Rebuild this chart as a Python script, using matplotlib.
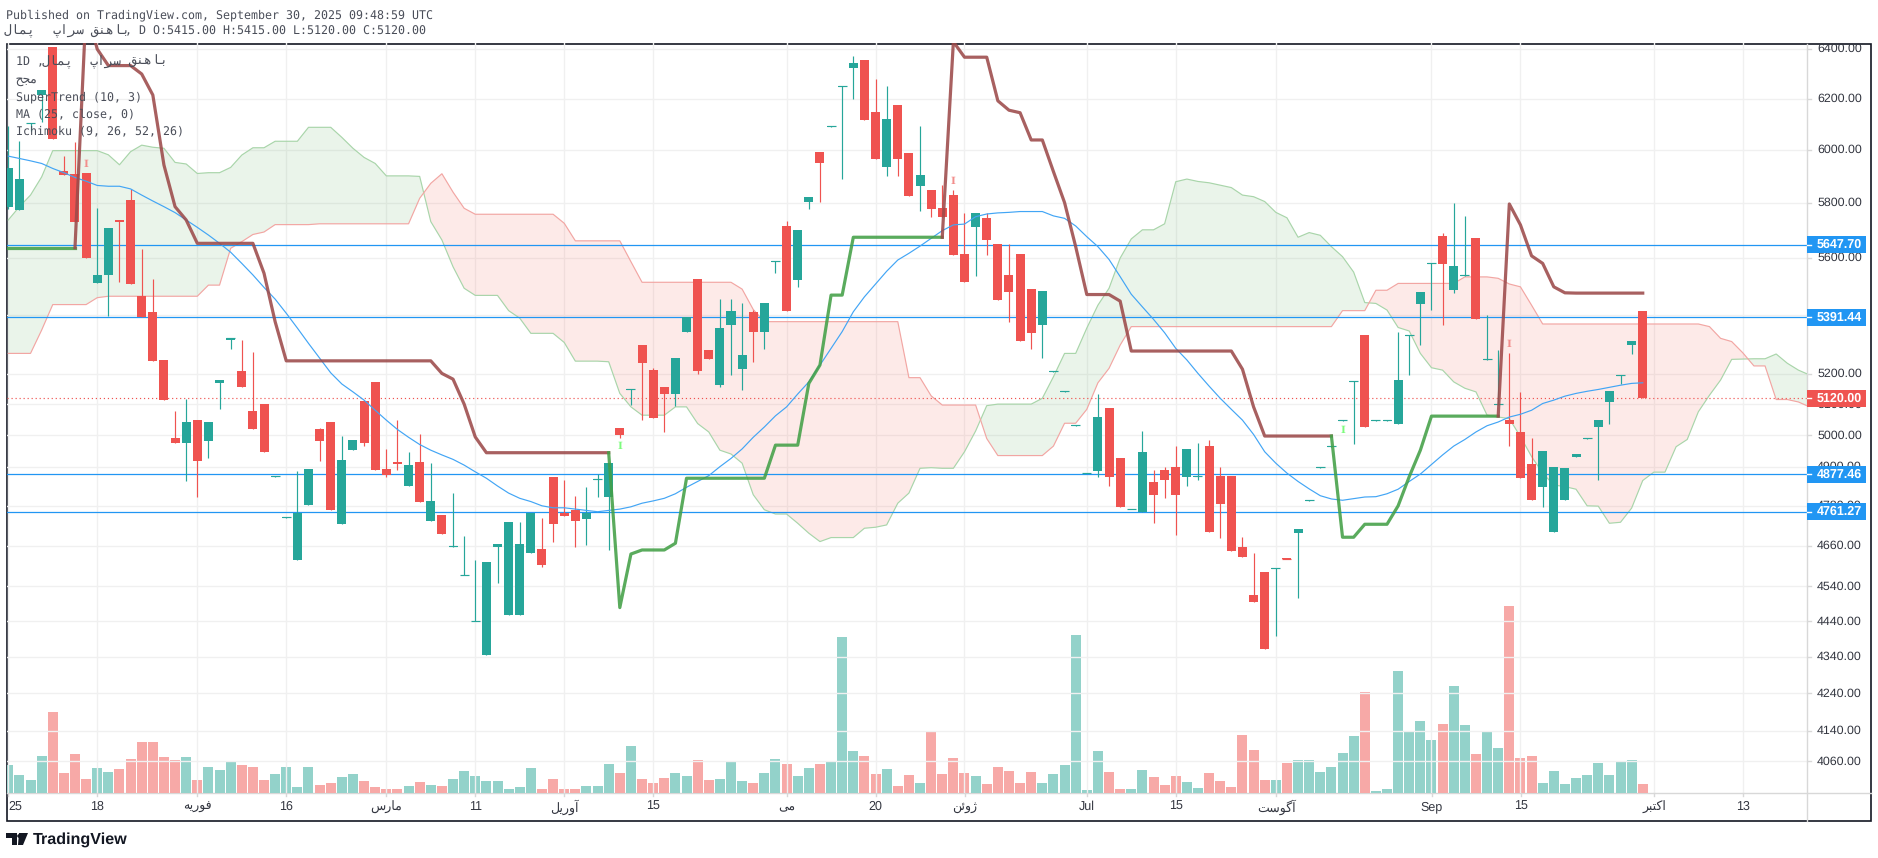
import numpy as np
import matplotlib
matplotlib.use("Agg")
import matplotlib.pyplot as plt
from matplotlib.ticker import NullFormatter

plt.rcParams["font.family"] = ["Liberation Sans", "DejaVu Sans"]
plt.rcParams["text.hinting"] = "no_hinting"

# daily candles, oldest first
opens = [5787,5776,6104,6215,6409,5920,5909,5913,5512,5538,5738,5812,5465,5410,5247,4991,4976,5049,4983,5171,
         5316,5210,5078,5101,4869,4744,4617,4783,5020,5043,4725,4953,5111,5173,4894,4916,4841,4916,4734,4752,
         4657,4572,4440,4345,4656,4458,4458,4638,4650,4869,4758,4768,4740,4860,4807,5023,5147,5297,5213,5157,
         5134,5342,5526,5280,5163,5366,5217,5410,5342,5586,5716,5522,5805,5993,6090,6247,6323,6356,6147,5935,
         6175,5989,5863,5849,5782,5830,5614,5712,5745,5651,5540,5614,5490,5366,5208,5142,5031,4880,4888,5088,
         4928,4769,4760,4854,4891,4900,4869,4870,4966,4872,4872,4656,4515,4582,4591,4624,4698,4796,4898,4964,
         5047,5174,5331,5047,5047,5036,5328,5437,5579,5680,5487,5537,5672,5248,5099,5049,5011,4909,4838,4701,
         4798,4931,4989,5026,5108,5193,5297,5415]
highs = [6093,6035,6106,6234,6409,5977,6031,5913,5782,5709,5738,5853,5633,5526,5247,5078,5117,5049,5043,5180,
         5320,5314,5274,5101,4872,4746,4888,4894,5023,5043,4998,4985,5111,5173,4957,5049,4947,5004,4913,4752,
         4820,4689,4617,4611,4665,4731,4731,4758,4743,4869,4860,4810,4838,4878,4913,5023,5149,5297,5220,5157,
         5254,5393,5526,5280,5455,5455,5441,5417,5441,5588,5734,5702,5823,5993,6093,6250,6372,6356,6278,6250,
         6175,5989,6093,5849,5867,5849,5764,5764,5764,5651,5651,5614,5490,5483,5210,5144,5033,4882,5134,5088,
         4928,4771,5014,4891,4900,4966,4957,4976,4985,4900,4872,4686,4638,4582,4594,4624,4710,4798,4900,4966,
         5049,5177,5331,5049,5049,5342,5331,5479,5582,5690,5801,5753,5672,5400,5281,5270,5140,4991,4950,4900,
         4897,4941,4991,5049,5144,5196,5311,5415]
lows = [5780,5776,6074,6109,6044,5905,5732,5601,5512,5398,5515,5509,5392,5245,5115,4976,4857,4808,4928,5085,
        5284,5157,5020,4947,4869,4744,4617,4783,4919,4768,4725,4953,4966,4891,4869,4891,4841,4792,4734,4695,
        4657,4572,4440,4345,4550,4458,4458,4638,4596,4671,4749,4656,4662,4807,4647,4991,5098,5049,5055,5011,
        5094,5342,5200,5250,5157,5197,5147,5240,5284,5547,5414,5497,5779,5805,6090,5890,6199,6116,5966,5901,
        5901,5827,5771,5749,5749,5611,5515,5536,5611,5451,5376,5311,5284,5254,5208,5142,5031,4880,4869,4841,
        4777,4769,4760,4728,4804,4692,4841,4860,4701,4683,4644,4626,4495,4362,4398,4621,4507,4796,4898,4964,
        5047,4972,5026,5047,5047,5036,5197,5297,5417,5366,5476,5537,5386,5248,5099,4966,4866,4798,4777,4701,
        4798,4931,4989,4860,5036,5167,5267,5120]
closes = [5932,5890,6106,6234,6044,5905,5732,5601,5540,5709,5732,5509,5392,5245,5115,4976,5043,4920,5043,5180,
          5320,5157,5020,4947,4872,4746,4759,4894,4982,4768,4922,4985,4976,4891,4875,4909,4906,4792,4795,4695,
          4660,4574,4441,4611,4665,4731,4665,4758,4602,4725,4749,4734,4758,4863,4913,5001,5149,5237,5055,5134,
          5254,5393,5210,5250,5355,5414,5264,5342,5441,5588,5414,5702,5823,5951,6093,6250,6344,6116,5966,6120,
          5966,5827,5905,5779,5749,5611,5515,5764,5665,5451,5479,5311,5339,5483,5210,5144,5033,4882,5059,4869,
          4777,4771,4947,4814,4860,4814,4957,4872,4701,4786,4644,4626,4495,4362,4594,4621,4710,4798,4900,4966,
          5049,5177,5026,5049,5049,5180,5331,5479,5582,5579,5572,5539,5386,5250,5101,5036,4866,4798,4950,4900,
          4897,4941,4991,5049,5144,5196,5311,5120]
volumes = [85,55,40,112,244,61,118,43,76,64,73,103,154,154,109,100,109,40,79,70,
           94,85,79,40,58,79,19,79,25,31,49,58,37,19,13,13,22,34,25,22,
           43,67,52,37,37,13,19,76,13,43,13,13,22,22,88,61,142,43,31,46,
           61,52,100,40,43,97,37,31,61,103,88,52,76,88,94,469,127,112,58,73,
           22,55,31,184,58,106,61,52,28,79,67,31,64,31,58,85,475,10,127,64,
           13,13,70,49,25,52,34,16,61,37,19,175,130,40,40,91,100,100,64,79,
           121,172,304,7,13,367,187,217,160,208,322,205,118,184,136,562,106,112,31,67,
           28,46,55,91,55,97,100,28]

# MA (25, close, 0)
ma25 = [5977,5968,5959,5949,5930,5914,5896,5882,5866,5863,5863,5853,5830,5808,5787,5765,5738,5711,5683,5653,
        5621,5581,5540,5496,5455,5406,5355,5303,5253,5204,5167,5141,5114,5081,5049,5019,4994,4971,4953,4938,
        4924,4906,4885,4865,4841,4819,4803,4793,4780,4774,4774,4770,4766,4762,4766,4770,4777,4788,4795,4803,
        4817,4837,4855,4873,4901,4927,4957,4994,5027,5063,5092,5134,5174,5230,5286,5343,5411,5463,5508,5553,
        5593,5617,5643,5671,5699,5720,5723,5750,5760,5764,5766,5769,5769,5769,5753,5744,5716,5677,5641,5595,
        5534,5472,5428,5385,5339,5286,5247,5202,5160,5120,5084,5049,5003,4948,4912,4881,4855,4832,4811,4801,
        4797,4802,4807,4808,4817,4831,4855,4878,4908,4938,4966,4987,5011,5031,5043,5059,5068,5081,5103,5114,
        5127,5136,5143,5149,5156,5163,5169,5171]

# Ichimoku (9, 26, 52, 26), the spans run on past the last candle
span_a = [5738,5787,5830,5898,5998,5998,5998,5998,5998,5982,5944,5994,6019,6011,6007,5953,5947,5911,5914,5914,
          5934,5981,6009,6009,6034,6034,6034,6088,6088,6088,6049,6007,5972,5949,5902,5902,5902,5900,5732,5665,
          5569,5493,5468,5468,5468,5415,5389,5337,5337,5337,5306,5243,5243,5243,5241,5136,5092,5065,5065,5065,
          5092,5092,5038,5011,4953,4941,4912,4814,4768,4755,4755,4727,4697,4672,4684,4684,4684,4712,4715,4722,
          4788,4819,4896,4898,4896,4896,4948,5014,5096,5101,5101,5101,5101,5120,5191,5269,5269,5355,5434,5493,
          5600,5669,5702,5702,5724,5880,5890,5881,5876,5867,5858,5830,5824,5806,5766,5746,5675,5692,5682,5641,
          5605,5550,5443,5440,5417,5357,5345,5269,5221,5213,5174,5153,5141,5065,5059,5054,4996,4933,4881,4844,
          4839,4831,4780,4779,4727,4730,4773,4858,4884,4884,4964,4987,5076,5130,5180,5249,5250,5251,5251,5267,
          5236,5213,5197]
span_b = [5269,5269,5269,5348,5436,5436,5436,5436,5460,5465,5465,5465,5465,5465,5465,5465,5465,5465,5504,5504,
          5635,5659,5685,5694,5721,5721,5721,5721,5724,5724,5724,5724,5724,5724,5724,5724,5724,5818,5874,5910,
          5841,5781,5759,5759,5759,5759,5759,5759,5759,5759,5726,5662,5662,5662,5662,5662,5587,5514,5514,5514,
          5514,5514,5514,5514,5514,5514,5490,5419,5377,5377,5377,5377,5377,5377,5377,5377,5377,5377,5377,5377,
          5377,5188,5188,5128,5098,5098,5098,5098,4990,4936,4936,4936,4936,4936,4966,5039,5039,5084,5171,5219,
          5297,5360,5360,5360,5360,5360,5360,5360,5360,5360,5360,5360,5360,5360,5360,5360,5360,5360,5360,5360,
          5415,5415,5415,5486,5486,5510,5510,5510,5510,5510,5510,5533,5533,5533,5528,5508,5498,5434,5369,5369,
          5369,5369,5369,5369,5369,5369,5369,5369,5369,5369,5369,5369,5369,5360,5320,5309,5271,5227,5227,5116,
          5116,5108,5092]

# SuperTrend (10, 3) legs: each leg starts where the one before it ended
st_start = [0, 6, 54, 84, 119, 134]
st_is_bull = [True, False, True, False, True, False]
st_legs = [
    [5637,5637,5637,5637,5637,5637,5637],
    [5637,6572,6400,6333,6333,6333,6299,6215,5943,5787,5738,5653,5653,5653,5653,5653,5653,5546,5377,5244,
     5244,5244,5244,5244,5244,5244,5244,5244,5244,5244,5244,5244,5244,5202,5183,5101,4995,4945,4945,4945,
     4945,4945,4945,4945,4945,4945,4945,4945,4945],
    [4945,4479,4635,4647,4647,4647,4667,4865,4865,4865,4865,4865,4865,4865,4865,4969,4969,4969,5169,5230,
     5469,5469,5675,5675,5675,5675,5675,5675,5675,5675,5675],
    [5675,6430,6367,6367,6367,6192,6155,6145,6039,6039,5918,5802,5641,5471,5471,5471,5448,5277,5277,5277,
     5277,5277,5277,5277,5277,5277,5277,5216,5092,4998,4998,4998,4998,4998,4998,4998],
    [4998,4685,4685,4724,4724,4724,4780,4870,4953,5062,5062,5062,5062,5062,5062,5062],
    [5062,5797,5720,5608,5581,5498,5477,5476,5476,5476,5476,5476,5476,5476],
]
# small "I" marks drawn where the trend flips
flip_bars = [7, 55, 85, 120, 135]
flip_prices = [5947, 4964, 5882, 5017, 5301]
flip_bull = [False, True, False, True, False]

hlines = [5647.70, 5391.44, 4877.46, 4761.27]
last_price = 5120.00

price_ticks = [6400, 6200, 6000, 5800, 5600, 5400, 5200, 5100, 5000, 4900, 4780, 4660, 4540, 4440, 4340, 4240, 4140, 4060]
hidden_tick_labels = [5400]  # completely under the 5391.44 tag
time_labels = ["25", "18", "فوریه", "16", "مارس", "11", "آوریل", "15", "می", "20", "ژوئن", "Jul", "15",
               "آگوست", "Sep", "15", "اکتبر", "13"]
time_idx = [0, 8, 17, 25, 34, 42, 50, 58, 70, 78, 86, 97, 105, 114, 128, 136, 148, 156]

name_words = ["پمال", "سراپ", "باهنق"]
legend_lines = ["SuperTrend (10, 3)", "MA (25, close, 0)", "Ichimoku (9, 26, 52, 26)"]
legend_exchange = "مجح"
header_1 = "Published on TradingView.com, September 30, 2025 09:48:59 UTC"
header_2_rest = ", D O:5415.00 H:5415.00 L:5120.00 C:5120.00"

RED = "#ef5350"
TEAL = "#26a69a"
BLUE = "#2196f3"

# matplotlib does no Arabic shaping, so pick the joined glyphs here
FORMS = {"ا": "\ufe8d\ufe8e", "آ": "\ufe81\ufe82", "ر": "\ufead\ufeae", "ژ": "\ufb8a\ufb8b", "و": "\ufeed\ufeee",
         "ب": "\ufe8f\ufe90\ufe91\ufe92", "پ": "\ufb56\ufb57\ufb58\ufb59", "ت": "\ufe95\ufe96\ufe97\ufe98",
         "ج": "\ufe9d\ufe9e\ufe9f\ufea0", "ح": "\ufea1\ufea2\ufea3\ufea4", "س": "\ufeb1\ufeb2\ufeb3\ufeb4",
         "ف": "\ufed1\ufed2\ufed3\ufed4", "ق": "\ufed5\ufed6\ufed7\ufed8", "ک": "\ufb8e\ufb8f\ufb90\ufb91",
         "گ": "\ufb92\ufb93\ufb94\ufb95", "ل": "\ufedd\ufede\ufedf\ufee0", "م": "\ufee1\ufee2\ufee3\ufee4",
         "ن": "\ufee5\ufee6\ufee7\ufee8", "ه": "\ufee9\ufeea\ufeeb\ufeec", "ی": "\ufbfc\ufbfd\ufbfe\ufbff",
         "ئ": "\ufe89\ufe8a\ufe8b\ufe8c"}


def shape(word):
    out = ""
    for k, ch in enumerate(word):
        forms = FORMS.get(ch)
        if forms is None:
            out += ch
            continue
        prev = word[k - 1] if k > 0 else ""
        nxt = word[k + 1] if k + 1 < len(word) else ""
        joins_prev = prev in FORMS and len(FORMS[prev]) == 4
        joins_next = nxt in FORMS and len(forms) == 4
        if joins_prev and joins_next:
            out += forms[3]
        elif joins_prev:
            out += forms[1]
        elif joins_next:
            out += forms[2]
        else:
            out += forms[0]
    return out[::-1]


W, H = 1878, 858
fig = plt.figure(figsize=(W / 100, H / 100), dpi=100)
left, right, top, bottom = 6.5, 1807.3, 43.5, 793.3
ax = fig.add_axes([left / W, 1 - bottom / H, (right - left) / W, (bottom - top) / H])

n = len(closes)
bars = np.arange(n)
opens_a, highs_a, lows_a, closes_a = map(np.array, (opens, highs, lows, closes))
up = closes_a >= opens_a
candle_colors = np.where(up, TEAL, RED)

# volume sits on its own hidden scale at the bottom of the pane
vol_ax = ax.twinx()
vol_ax.bar(bars, volumes, width=0.9, color=np.where(up, "#93d2ca", "#f7a9a7"), linewidth=0, zorder=2)
vol_ax.set_ylim(0, 2250)
vol_ax.axis("off")
ax.set_zorder(vol_ax.get_zorder() + 1)
ax.patch.set_visible(False)

ax.set_yscale("log")
ax.set_xlim(-0.16, 161.8)
ax.set_ylim(3977.8, 6423)

cloud_x = np.arange(len(span_a))
a = np.array(span_a, float)
b = np.array(span_b, float)
ax.fill_between(cloud_x, a, b, where=a >= b, interpolate=True, color="#43a047", alpha=0.11, linewidth=0, zorder=1)
ax.fill_between(cloud_x, a, b, where=a < b, interpolate=True, color="#f44336", alpha=0.11, linewidth=0, zorder=1)
ax.plot(cloud_x, a, color="#a9d5aa", lw=0.85, zorder=1.5)
ax.plot(cloud_x, b, color="#f2a6a3", lw=0.85, zorder=1.5)

for price in hlines:
    ax.axhline(price, color=BLUE, lw=0.9, zorder=3)
ax.axhline(last_price, color=RED, lw=0.85, ls=(0, (1, 2.4)), zorder=3)

ax.vlines(bars, lows_a, highs_a, color=candle_colors, lw=0.85, zorder=4)
body_low = np.minimum(opens_a, closes_a)
body_h = np.abs(closes_a - opens_a)
ax.bar(bars, body_h, bottom=body_low, width=0.81, color=candle_colors, linewidth=0, zorder=4)
# doji bars are only a tick wide
flat = body_h < 6
ax.hlines(closes_a[flat], bars[flat] - 0.4, bars[flat] + 0.4, color=candle_colors[flat], lw=0.85, zorder=4)

ax.plot(bars, ma25, color="#42a5f5", lw=0.85, zorder=5)

for start, bull, leg in zip(st_start, st_is_bull, st_legs):
    ax.plot(np.arange(start, start + len(leg)), leg, color="#43a047" if bull else "#9c4a4a",
            alpha=0.88, lw=2.3, solid_joinstyle="round", zorder=6)

for bar, price, bull in zip(flip_bars, flip_prices, flip_bull):
    ax.text(bar, price, "I", color="#7dfc7d" if bull else "#f28e8c", fontsize=7.5, fontweight="bold",
            family="DejaVu Serif", ha="center", va="center", zorder=6)

ax.yaxis.set_major_locator(plt.FixedLocator(price_ticks))
ax.yaxis.set_major_formatter(NullFormatter())
ax.yaxis.set_minor_formatter(NullFormatter())
ax.yaxis.set_minor_locator(plt.NullLocator())
ax.tick_params(axis="y", length=0)
ax.set_xticks(time_idx)
ax.set_xticklabels([])
ax.tick_params(axis="x", length=0)
ax.grid(True, color="#f0f0f0", lw=1.0)
ax.set_axisbelow(True)
for side in ax.spines.values():
    side.set_visible(False)

# everything outside the pane is placed in figure pixels
overlay = fig.add_axes([0, 0, 1, 1], zorder=-1)
overlay.set_xlim(0, W)
overlay.set_ylim(H, 0)
overlay.axis("off")
overlay.add_patch(plt.Rectangle((left, top), 1871 - left, 821.3 - top, fc="white", ec="#131722", lw=1.2))
overlay.plot([right, right], [top, 821.3], color="#d8d8d8", lw=1.0)
overlay.plot([left, 1871], [bottom, bottom], color="#d8d8d8", lw=1.0)

labels = fig.add_axes([0, 0, 1, 1], zorder=10)
labels.set_xlim(0, W)
labels.set_ylim(H, 0)
labels.axis("off")
TEXT = "#333640"
y_px = lambda p: 761.3 - 1565 * np.log(p / 4060)

for price in price_ticks:
    labels.plot([right, right + 4], [y_px(price)] * 2, color="#d8d8d8", lw=1)
    if price not in hidden_tick_labels:
        labels.text(1817, y_px(price), f"{price:.2f}", fontsize=8.9, color=TEXT, va="center", ha="left")
for price, color in zip(hlines + [last_price], [BLUE] * 4 + [RED]):
    yy = y_px(price)
    labels.add_patch(plt.Rectangle((right, yy - 8.5), 58.7, 17, fc=color, ec="none", zorder=3))
    labels.plot([right, right + 4], [yy, yy], color="white", lw=1, zorder=4)
    labels.text(1817, yy, f"{price:.2f}", fontsize=9, color="white", fontweight="bold", va="center", ha="left", zorder=4)

for idx, text in zip(time_idx, time_labels):
    xx = 8.3 + 11.122 * idx
    labels.plot([xx, xx], [bottom, bottom + 3], color="#d8d8d8", lw=1)
    word = shape(text) if text not in ("Jul", "Sep") and not text.isdigit() else text
    # the first label is pushed inside the frame
    labels.text(max(xx, 15), 807, word, fontsize=9, color=TEXT, ha="center", va="center")

MONO = ["DejaVu Sans Mono", "DejaVu Sans"]
INK = "#4a4e59"
labels.text(6.5, 14.7, header_1, family=MONO, fontsize=8.36, color=INK, va="center")
for word, cx in zip(name_words, [20, 68.5, 110.5]):
    labels.text(cx, 31.3, shape(word), family=MONO, fontsize=9.5, color=INK, va="center", ha="center")
labels.text(125, 31.3, header_2_rest, family=MONO, fontsize=8.36, color=INK, va="center", ha="left")

labels.text(15.7, 62, "1D ,", family=MONO, fontsize=8.36, color=INK, va="center")
for word, cx in zip(name_words, [57.5, 106, 148]):
    labels.text(cx, 62, shape(word), family=MONO, fontsize=9.5, color=INK, va="center", ha="center")
labels.text(15.7, 80, shape(legend_exchange), family=MONO, fontsize=9, color=INK, va="center")
for k, line in enumerate(legend_lines):
    labels.text(15.7, 96.7 + 17 * k, line, family=MONO, fontsize=8.36, color=INK, va="center")

labels.text(33, 840, "TradingView", fontsize=11.6, fontweight="bold", color="#131722", va="center", ha="left")
labels.add_patch(plt.Polygon([(6, 833), (17, 833), (17, 845), (12, 845), (12, 838), (6, 838)], fc="#131722", ec="none"))
labels.add_patch(plt.Polygon([(19, 833), (28, 833), (23, 845), (18, 845)], fc="#131722", ec="none"))
labels.add_patch(plt.Circle((19, 836), 1.8, fc="#131722", ec="none"))

fig.savefig("out.png", dpi=100, facecolor="white")
